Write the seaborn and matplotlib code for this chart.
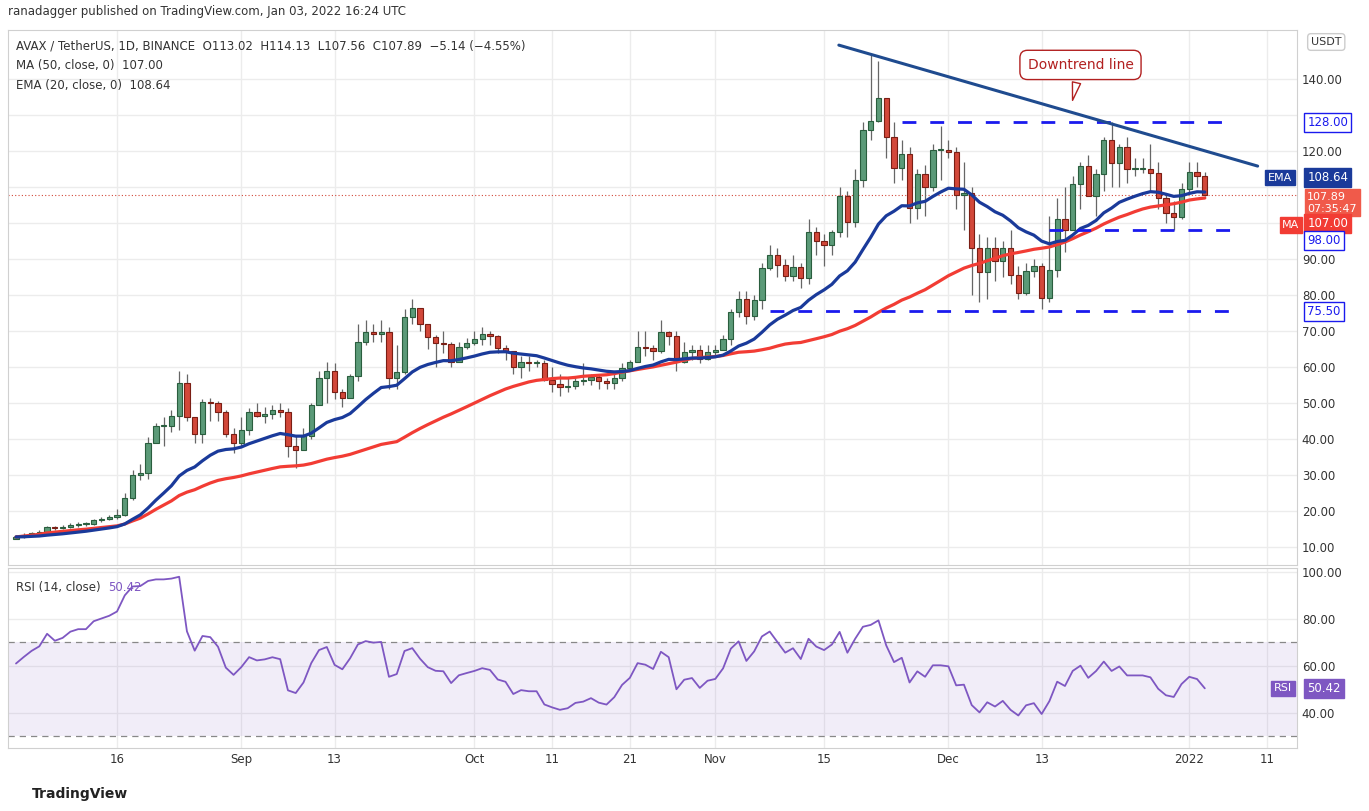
import numpy as np
import pandas as pd
import matplotlib.pyplot as plt
import seaborn as sns

# daily candles, Aug 3 2021 .. Jan 3 2022
dates = pd.date_range("2021-08-03", "2022-01-03", freq="D")

closes = [12.8, 13.3, 13.8, 14.2, 15.5, 15.2, 15.5, 16.2, 16.5, 16.5, 17.5, 17.9, 18.3, 19.0,
          23.6, 30, 30.5, 39, 43.6, 43.6, 46.4, 55.5, 46, 41.4, 50.3, 50, 47.5, 41.4, 39, 42.5, 47.5, 46.5,
          47, 48, 47.5, 38, 37, 40.8, 49.4, 57, 59, 53, 51.4, 57.5, 67, 69.7, 69.2, 69.7, 57, 58.5, 74, 76.4, 72,
          68.3, 66.7, 66.5, 61.4, 65.5, 66.7,
          67.8, 69.2, 68.6, 65.3, 64.5, 60, 61.4, 61, 61, 56.4, 55.3, 54.4, 54.8, 56.1, 56.4, 57.2, 56, 55.5,
          57, 59.7, 61.4, 65.5, 65.2, 64.4, 69.7, 68.7, 61.4, 64.2, 64.7, 62.2, 64.2,
          64.7, 67.8, 75.3, 78.9, 74.2, 78.6, 87.5, 91.1, 88.3, 85.3, 87.8, 84.7, 97.5, 95,
          93.9, 97.5, 107.5, 100.3, 112, 125.8, 128.3, 134.7, 123.9, 115.3, 119.2, 104.2, 113.6, 110, 120.3, 120.3,
          119.7, 107.8, 108.3, 93, 86.4, 93, 89.4, 93, 85.6, 80.6, 86.7, 88,
          79.2, 87, 101.1, 98, 110.8, 115.8, 107.5, 113.6, 123, 116.7, 121, 115, 115, 115, 113.9, 107, 102.8,
          101.7, 109.4, 114.2, 113, 107.89]

highs = [13.3, 13.8, 14.3, 14.8, 15.8, 15.8, 16.0, 16.6, 17.0, 16.9, 17.9, 18.4, 18.8, 20.5,
         25, 31.5, 33, 40.5, 44.5, 46, 48, 59, 58, 44, 51, 51.5, 50.5, 48, 43, 46, 48.5, 50, 49, 49.5,
         50, 48.5, 41, 43, 50, 59, 61.5, 61, 54, 58, 72, 73, 72, 73, 71, 66, 76, 79, 74,
         70, 69, 70, 67, 67, 68,
         70, 71, 70, 69, 66, 64, 63, 63, 62, 62, 60, 58, 57, 57, 61, 58, 58, 57, 58, 61, 62, 70, 70, 66,
         73, 70, 70, 67, 66, 66, 66,
         66, 69, 76, 81, 81, 80, 89, 94, 93, 90, 91, 89, 101, 99,
         97, 98, 110, 109, 115, 128, 147, 145, 129, 128, 123, 121, 115, 116, 122, 127,
         123, 121, 117, 110, 97, 96, 96, 95, 98, 88, 89, 90,
         89, 102, 107, 110, 113, 117, 119, 115, 124, 128, 122, 124, 118, 118, 122, 117, 108, 106, 111, 117,
         117, 114.13]

lows = [12.2, 12.6, 13.0, 13.5, 13.9, 14.6, 14.9, 15.2, 15.6, 15.8, 16.0, 17.0, 17.5, 17.8,
        18.5, 23, 28.5, 29, 39, 38, 42, 42.5, 45, 39, 39, 45, 45, 40.5, 36, 38, 41, 46, 44.5, 45.5,
        46, 35, 32, 37, 40, 56, 50, 51, 49, 53, 56, 66, 67, 67, 54, 54, 58, 72, 70,
        65, 60, 64, 60, 62, 65,
        66, 66, 66, 64, 62, 58, 57, 59, 60, 56, 53, 52, 53, 54, 55, 55, 54, 54, 54, 56, 59, 62, 63, 62,
        64, 66, 59, 61, 62, 61, 62,
        63, 65, 66, 74, 72, 73, 76, 87, 85, 84, 84, 82, 83, 91,
        88, 91, 96, 96, 99, 110, 123, 128, 118, 111, 112, 100, 101, 102, 109, 112,
        118, 104, 98, 80, 78, 79, 84, 85, 83, 79, 80, 85,
        76, 78, 85, 92, 98, 104, 108, 102, 109, 110, 110, 111, 113, 114, 109, 104, 100, 98, 101, 108,
        110, 107.56]

tick_labels = ["16", "Sep", "13", "Oct", "11", "21", "Nov", "15", "Dec", "13", "2022", "11"]
tick_dates = ["2021-08-16", "2021-09-01", "2021-09-13", "2021-10-01", "2021-10-11", "2021-10-21",
              "2021-11-01", "2021-11-15", "2021-12-01", "2021-12-13", "2022-01-01", "2022-01-11"]
levels = [128.0, 98.0, 75.5]

df = pd.DataFrame({"date": dates, "close": closes, "high": highs, "low": lows})
df["open"] = df["close"].shift(1).fillna(12.3)
df["high"] = df[["high", "open", "close"]].max(axis=1)
df["low"] = df[["low", "open", "close"]].min(axis=1)
df["x"] = (df["date"] - dates[0]).dt.days
df["ema"] = df["close"].ewm(span=20, adjust=False).mean()
df["ma"] = df["close"].rolling(50, min_periods=1).mean()

# Wilder RSI, seeded so the first value sits near the chart's starting reading
avg_up, avg_dn = 0.29, 0.21
rsi = []
prev = 12.3
for c in closes:
    d = c - prev
    prev = c
    avg_up = (avg_up * 13 + max(d, 0)) / 14
    avg_dn = (avg_dn * 13 + max(-d, 0)) / 14
    rsi.append(100 - 100 / (1 + avg_up / avg_dn))
df["rsi"] = rsi

def day(s):
    return (pd.Timestamp(s) - dates[0]).days

sns.set_style("white")
plt.rcParams["font.family"] = ["DejaVu Sans"]
fig = plt.figure(figsize=(13.69, 8.11), dpi=100)
W, H = 1369, 811
ax = fig.add_axes([8 / W, 1 - 565 / H, 1289 / W, 535 / H])
ax2 = fig.add_axes([8 / W, 1 - 748 / H, 1289 / W, 180 / H])

x0 = -(16 - 8) / 7.77
x1 = x0 + 1289 / 7.77
green, red = "#5b9a78", "#d2483a"
for ax_ in (ax, ax2):
    ax_.set_xlim(x0, x1)
    ax_.set_xticks([day(d) for d in tick_dates])
    ax_.grid(True, color="#ececec", lw=1)
    ax_.yaxis.tick_right()
    for s in ax_.spines.values():
        s.set_color("#d0d0d0")
    ax_.tick_params(length=0, labelsize=8.5, colors="#333333")
ax.set_xticklabels([])
ax2.set_xticklabels(tick_labels)

# candles
for _, r in df.iterrows():
    col = green if r["close"] >= r["open"] else red
    edge = "#2a5e3e" if col == green else "#7a1e14"
    ax.vlines(r["x"], r["low"], r["high"], color="#666666", lw=0.9, zorder=2)
    ax.bar(r["x"], max(abs(r["close"] - r["open"]), 0.3), bottom=min(r["open"], r["close"]),
           width=0.68, color=col, edgecolor=edge, lw=0.8, zorder=3)

sns.lineplot(data=df, x="x", y="ma", ax=ax, color="#f23c34", lw=2.3, zorder=4)
sns.lineplot(data=df, x="x", y="ema", ax=ax, color="#1a3a9a", lw=2.3, zorder=5)
ax.set_ylim(5, 153.6)
ax.set_yticks(range(10, 150, 10))
# labels hidden where the price tags sit on top of them
ax.set_yticklabels(["" if v in (100, 110, 130) else f"{v}.00" for v in range(10, 150, 10)])
ax.set_xlabel("")
ax.set_ylabel("")

# support / resistance levels
end = day("2022-01-06") + 0.6
ax.hlines(levels[0], day("2021-11-25"), end, color="#1a1aee", lw=2, ls=(0, (5, 5)), zorder=6)
ax.hlines(levels[1], day("2021-12-14"), end, color="#1a1aee", lw=2, ls=(0, (5, 5)), zorder=6)
ax.hlines(levels[2], day("2021-11-08"), end, color="#1a1aee", lw=2, ls=(0, (5, 5)), zorder=6)
ax.plot([105.9, 159.8], [149.4, 115.8], color="#1f4b8f", lw=2.2, zorder=6)
ax.axhline(closes[-1], color="#d2483a", lw=0.8, ls=(0, (1, 2)), zorder=1)

# callout
ax.annotate("Downtrend line", xy=(135.9, 133.3), xytext=(137.0, 143.9), ha="center", va="center",
            fontsize=10, color="#b22020",
            bbox=dict(boxstyle="round,pad=0.55", fc="white", ec="#b22020", lw=1),
            arrowprops=dict(arrowstyle="wedge,tail_width=0.6", fc="white", ec="#b22020", lw=1))

# right-side price boxes
def tag(a, y, text, fc, tc="white", ec=None, fs=8.5):
    a.text(1.008, y, text, transform=a.get_yaxis_transform(), ha="left", va="center",
           fontsize=fs, color=tc, bbox=dict(boxstyle="square,pad=0.25", fc=fc, ec=ec or fc))

tag(ax, 112.6, "108.64", "#1a3a9a")
tag(ax, 105.6, "107.89\n07:35:47", "#f05a4a", fs=8)
tag(ax, 99.9, "107.00", "#f23c34")
tag(ax, levels[0], "128.00", "white", "#1a1aee", "#1a1aee")
tag(ax, 95.2, "98.00", "white", "#1a1aee", "#1a1aee")
tag(ax, levels[2], "75.50", "white", "#1a1aee", "#1a1aee")
ax.text(0.996, 112.6, "EMA", transform=ax.get_yaxis_transform(), ha="right", va="center",
        fontsize=8, color="white", bbox=dict(boxstyle="square,pad=0.25", fc="#1a3a9a", ec="#1a3a9a"))
ax.text(1.002, 99.4, "MA", transform=ax.get_yaxis_transform(), ha="right", va="center",
        fontsize=8, color="white", bbox=dict(boxstyle="square,pad=0.25", fc="#f23c34", ec="#f23c34"))

# legend text
ax.text(0.006, 0.982, "AVAX / TetherUS, 1D, BINANCE  O113.02  H114.13  L107.56  C107.89  \u22125.14 (\u22124.55%)",
        transform=ax.transAxes, fontsize=8.5, color="#333333", va="top")
ax.text(0.006, 0.945, "MA (50, close, 0)  107.00", transform=ax.transAxes, fontsize=8.5, color="#333333", va="top")
ax.text(0.006, 0.908, "EMA (20, close, 0)  108.64", transform=ax.transAxes, fontsize=8.5, color="#333333", va="top")

# RSI
ax2.axhspan(30, 70, color="#7e57c2", alpha=0.1, lw=0)
for lv in (70, 30):
    ax2.axhline(lv, color="#888888", lw=0.9, ls=(0, (5, 4)))
sns.lineplot(data=df, x="x", y="rsi", ax=ax2, color="#7e57c2", lw=1.3)
ax2.set_ylim(25, 101.7)
ax2.set_yticks([40, 60, 80, 100])
ax2.set_yticklabels(["40.00", "60.00", "80.00", "100.00"])
ax2.set_xlabel("")
ax2.set_ylabel("")
last_rsi = df["rsi"].iloc[-1]
ax2.text(0.006, 0.93, "RSI (14, close)", transform=ax2.transAxes, fontsize=8.5, color="#333333", va="top")
ax2.text(0.078, 0.93, f"{last_rsi:.2f}", transform=ax2.transAxes, fontsize=8.5, color="#7e57c2", va="top")
ax2.text(0.996, last_rsi, "RSI", transform=ax2.get_yaxis_transform(), ha="right", va="center",
         fontsize=8, color="white", bbox=dict(boxstyle="square,pad=0.25", fc="#7e57c2", ec="#7e57c2"))
tag(ax2, last_rsi, f"{last_rsi:.2f}", "#7e57c2")

fig.text(8 / W, 1 - 12 / H, "ranadagger published on TradingView.com, Jan 03, 2022 16:24 UTC",
         fontsize=8.5, color="#333333", va="center")
fig.text(32 / W, 1 - 794 / H, "TradingView", fontsize=10, color="#222222", va="center", weight="bold")
fig.text(1311 / W, 1 - 42 / H, "USDT", fontsize=8, color="#333333", va="center",
         bbox=dict(boxstyle="round,pad=0.3", fc="white", ec="#cccccc"))

fig.savefig("out.png", dpi=100)
